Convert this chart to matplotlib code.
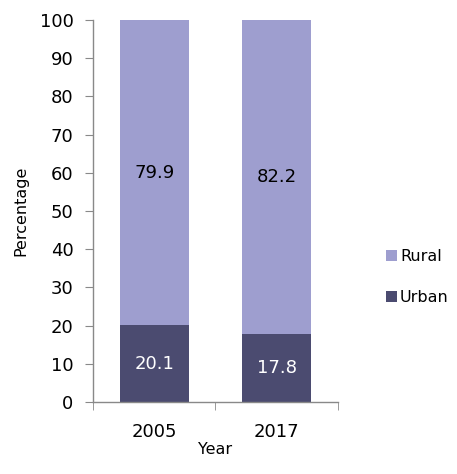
import matplotlib.pyplot as plt
import numpy as np

years = ['2005', '2017']
urban = [20.1, 17.8]
rural = [79.9, 82.2]

plt.rcParams['font.family'] = ['DejaVu Sans']

fig = plt.figure(figsize=(4.57, 4.74), dpi=100)
ax = fig.add_axes([0.2035, 0.152, 0.536, 0.806])

x = np.arange(len(years))
w = 0.56
b1 = ax.bar(x, urban, w, color='#4b4b70', label='Urban')
b2 = ax.bar(x, rural, w, bottom=urban, color='#9e9ecf', label='Rural')

for i in range(len(years)):
    ax.text(x[i], urban[i] / 2, f'{urban[i]:.1f}', ha='center', va='center',
            color='white', fontsize=13)
    ax.text(x[i], urban[i] + rural[i] / 2, f'{rural[i]:.1f}', ha='center', va='center',
            color='black', fontsize=13)

ax.set_xlim(-0.5, 1.5)
ax.set_ylim(0, 100)
ax.set_yticks(range(0, 101, 10))
ax.set_xticks(x)
ax.set_xticklabels(years)
ax.set_xticks([-0.5, 0.5, 1.5], minor=True)
ax.tick_params(axis='x', which='major', length=0, labelsize=13, pad=15)
ax.tick_params(axis='x', which='minor', length=6, color='#898989', direction='out')
ax.tick_params(axis='y', length=6, color='#898989', labelsize=13, direction='out', pad=8)

for s in ['top', 'right']:
    ax.spines[s].set_visible(False)
for s in ['left', 'bottom']:
    ax.spines[s].set_color('#898989')
    ax.spines[s].set_linewidth(1)

ax.set_xlabel('Year', fontsize=11.5, labelpad=1)
ax.set_ylabel('Percentage', fontsize=11.5, labelpad=8)

handles, labels = ax.get_legend_handles_labels()
ax.legend(handles[::-1], labels[::-1], loc='center left', bbox_to_anchor=(1.195, 0.327),
          frameon=False, handlelength=0.7, handleheight=0.7, handletextpad=0.2,
          labelspacing=1.6, fontsize=11.5, borderpad=0, borderaxespad=0)

fig.savefig('out.png', dpi=100)
